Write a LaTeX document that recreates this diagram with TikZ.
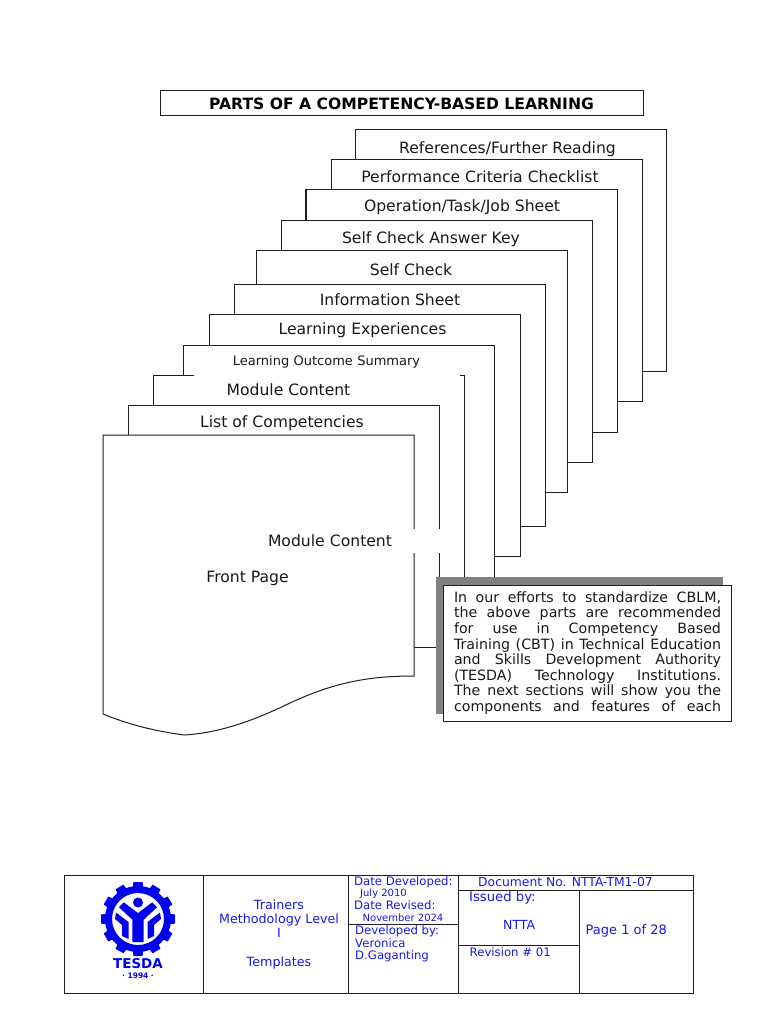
\documentclass[tikz,border=0pt]{standalone}
\usepackage{fontspec}
\setmainfont{DejaVu Sans}
\usetikzlibrary{positioning}
\definecolor{tblue}{RGB}{25,25,225}
\definecolor{lblue}{RGB}{0,0,240}
\definecolor{tline}{RGB}{30,30,30}
\begin{document}
\begin{tikzpicture}[
  x=1pt, y=-1pt,
  font=\fontsize{15.6}{18}\selectfont,
  page/.style={draw=tline, line width=1pt, fill=white, minimum width=311pt, minimum height=242pt, inner sep=0pt},
  tab/.style={inner sep=0pt, anchor=base, text=black!90},
  cell/.style={inner sep=0pt, text=tblue, font=\fontsize{11.7}{14}\selectfont, align=left, anchor=west},
  small/.style={inner sep=0pt, text=tblue, font=\fontsize{10}{12}\selectfont, align=left, anchor=west},
  rule/.style={draw=tline, line width=1pt}
]
\useasboundingbox (0,0) rectangle (768,1024);
% title
\node[draw=tline, line width=1pt, minimum width=483pt, minimum height=25pt, inner sep=0pt, font=\fontsize{15.6}{18}\selectfont\bfseries] (title) at (401.5,103.5) {PARTS OF A COMPETENCY-BASED LEARNING};
% stack, back to front
\node[page] (refs) at (511,250.5) {};
\node[tab] (refslabel) at (507.5,153.7) {References/Further Reading};
\node[page] (perf) at (486.5,280.5) {};
\node[tab] (perflabel) at (480,182.7) {Performance Criteria Checklist};
\node[page] (oper) at (461.5,311) {};
\draw[draw=tline, line width=1.6pt] (oper.south west) -- (oper.north west) -- (oper.north east);
\node[tab] (operlabel) at (462,211.5) {Operation/Task/Job Sheet};
\node[page] (answer) at (436.5,341.5) {};
\node[tab] (answerlabel) at (431,243.7) {Self Check Answer Key};
\node[page] (check) at (411.5,371) {};
\node[tab] (checklabel) at (411,275.5) {Self Check};
\node[page] (info) at (389.5,405.5) {};
\node[tab] (infolabel) at (390,305.3) {Information Sheet};
\node[page] (exper) at (364.5,435.5) {};
\node[tab] (experlabel) at (362.5,334.3) {Learning Experiences};
\node[page] (outcome) at (338.5,466) {};
\node[page] (content) at (308.5,496) {};
\node[tab, fill=white, text height=18pt, text depth=11pt, text width=266pt, align=center, font=\fontsize{13}{15}\selectfont] (outcomelabel) at (326.5,365) {Learning Outcome Summary};
\node[tab] (contentlabel) at (288.5,395) {Module Content};
\node[page] (comps) at (284,526) {};
\node[tab] (compslabel) at (282,427.7) {List of Competencies};
% front page
\draw[draw=tline, line width=1pt, fill=white] (103,435) -- (414,435) -- (414,676)
  .. controls (370,676) and (335,682) .. (290,703)
  .. controls (255,720) and (220,733) .. (184,735)
  .. controls (155,731) and (130,725) .. (103,714) -- cycle;
\node[tab, fill=white, text height=18pt, text depth=6pt, text width=174pt, align=left] (middlelabel) at (355,546.7) {Module Content};
\node[tab] (frontlabel) at (247.5,582.7) {Front Page};
% note
\node[fill=black!50, minimum width=287pt, minimum height=137pt, inner sep=0pt] (noteshadow) at (579.5,645.5) {};
\node[draw=tline, fill=white, line width=1pt, minimum width=288.5pt, minimum height=136pt, inner sep=0pt, text width=267pt, align=justify, text=black!90, font=\fontsize{14.2}{15.6}\selectfont] (note) at (587.5,653) {In our efforts to standardize CBLM,\linebreak the above parts are recommended\linebreak for use in Competency Based\linebreak Training (CBT) in Technical Education\linebreak and Skills Development Authority\linebreak (TESDA) Technology Institutions.\linebreak The next sections will show you the\linebreak components and features of each\parfillskip=0pt\par};
% footer table
\node[rule, minimum width=629pt, minimum height=118pt, inner sep=0pt] (footer) at (378.5,934) {};
\coordinate (a) at (203,875); \coordinate (b) at (348,875); \coordinate (c) at (458,875); \coordinate (d) at (579,890);
\draw[rule] (a) -- (a |- footer.south);
\draw[rule] (b) -- (b |- footer.south);
\draw[rule] (c) -- (c |- footer.south);
\draw[rule] (d) -- (d |- footer.south);
\draw[rule] (c |- d) -- (footer.east |- d);
\coordinate (e) at (348,924); \coordinate (f) at (458,945);
\draw[rule] (e) -- (c |- e);
\draw[rule] (f) -- (d |- f);
% logo
\fill[lblue, even odd rule] (138,919) circle (33) (138,919) circle (26);
\foreach \ang in {0,30,...,330}
  \fill[lblue, rotate around={\ang:(138,919)}] (133.5,882) -- (142.5,882) -- (143.5,889) -- (132.5,889) -- cycle;
\fill[lblue] (138,902.5) circle (5);
\fill[lblue] (138,913) -- (123.7,902.3) -- (119,907.3) -- (132.3,919.7) -- (132.3,942) -- (143.7,942) -- (143.7,919.7) -- (157,907.3) -- (152.3,902.3) -- cycle;
\fill[lblue] (116,912.5) -- (128.5,922) -- (128.5,939) -- (122,936) -- (122,925) -- (115,919) -- cycle;
\fill[lblue] (160,912.5) -- (147.5,922) -- (147.5,939) -- (154,936) -- (154,925) -- (161,919) -- cycle;
\node[inner sep=0pt, text=lblue, font=\fontsize{13.5}{15}\selectfont\bfseries] (logoname) at (138,964) {TESDA};
\node[inner sep=0pt, text=lblue, font=\fontsize{7.5}{9}\selectfont\bfseries] (logoyear) at (138,975.5) {·\,\,1994\,\,·};
% footer text
\node[inner sep=0pt, text=tblue, align=center, font=\fontsize{12.7}{14.2}\selectfont] (course) at (279,934.3) {Trainers\\Methodology Level\\I\\[14.2pt]Templates};
\node[cell] (developed) at (354,882) {Date Developed:};
\node[small] (july) at (360,893.5) {July 2010};
\node[cell] (revised) at (354,905.5) {Date Revised:};
\node[small] (november) at (362.5,917.5) {November 2024};
\node[cell] (author) at (355,931) {Developed by:};
\node[cell] (veronica) at (355,943) {Veronica};
\node[cell] (gaganting) at (355,956) {D.Gaganting};
\node[cell, font=\fontsize{12.35}{14}\selectfont] (docno) at (478,882) {Document No. NTTA-TM1-07};
\node[cell, font=\fontsize{13.2}{15}\selectfont] (issued) at (469,898) {Issued by:};
\node[cell, font=\fontsize{12.5}{14}\selectfont] (ntta) at (503,925) {NTTA};
\node[cell] (revision) at (469.5,952) {Revision \# 01};
\node[cell, font=\fontsize{13}{15}\selectfont] (pageno) at (585.5,930.5) {Page 1 of 28};
\end{tikzpicture}
\end{document}
